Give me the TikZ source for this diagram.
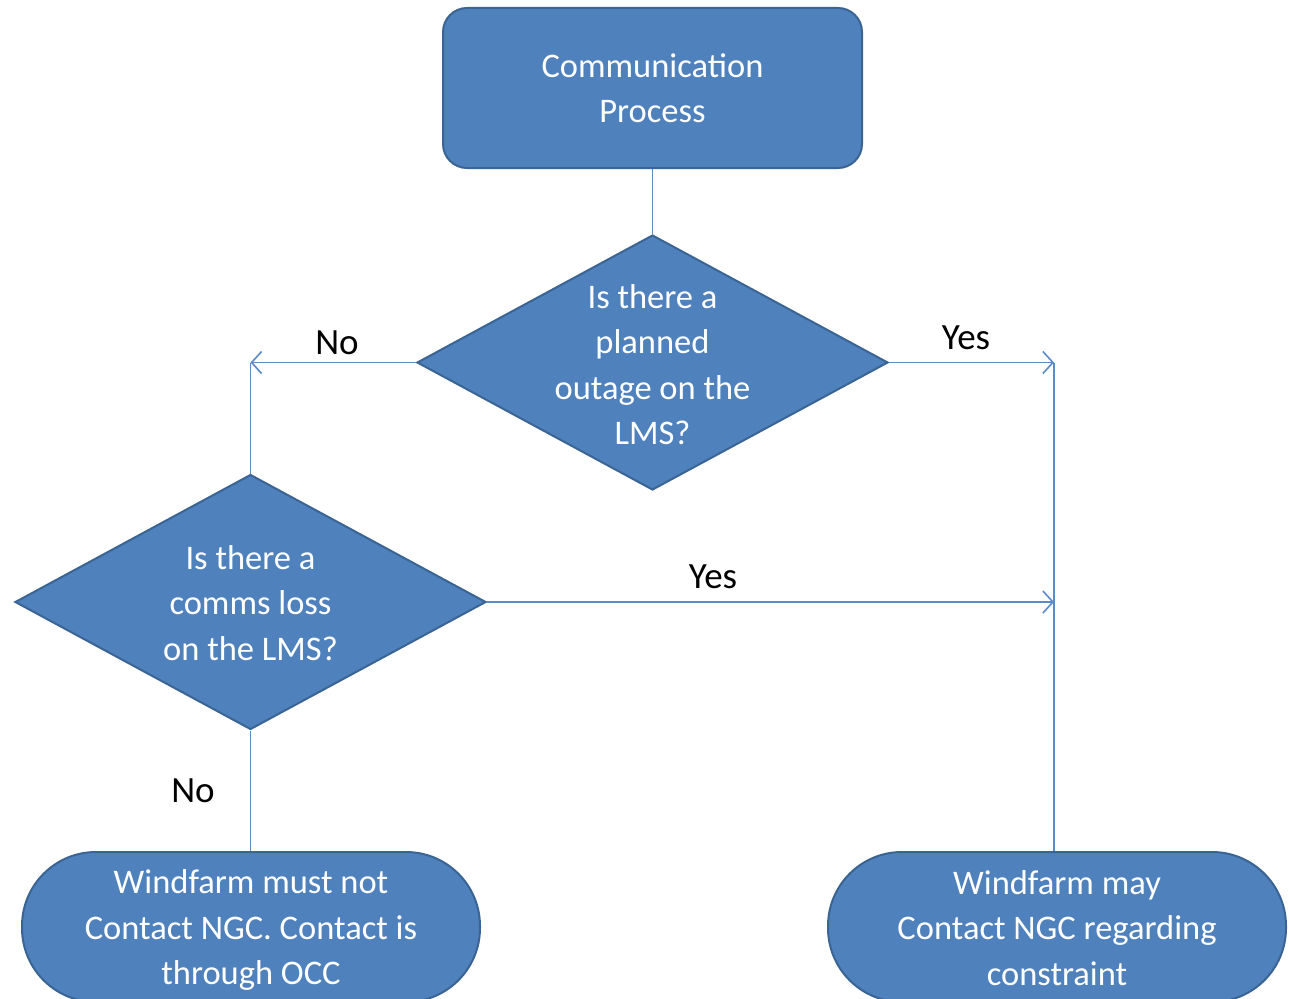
\documentclass[tikz,border=0pt]{standalone}
\usepackage{fontspec}
\setmainfont{Carlito}
\usetikzlibrary{shapes.geometric,arrows.meta}
\definecolor{boxfill}{HTML}{4F81BD}
\definecolor{boxline}{HTML}{3A6494}
\definecolor{conn}{HTML}{5A8BCB}
\tikzset{
  base/.style={fill=boxfill,draw=boxline,line width=2pt,inner sep=0pt},
  procbox/.style={base,rectangle,rounded corners=24pt,minimum width=419pt,minimum height=160pt},
  termbox/.style={base,rectangle,rounded corners=74pt,minimum width=458pt,minimum height=150pt},
  decbox/.style={base,diamond,minimum width=471pt,minimum height=255pt},
  wtext/.style={text=white,align=center,font=\fontsize{34.5}{45.5}\selectfont},
  lbl/.style={text=black,font=\fontsize{37}{42}\selectfont},
  conline/.style={draw=conn,line width=1.6pt},
  arr/.style={conline,-{Straight Barb[length=10pt,width=22pt,line width=1.6pt]}}
}
\begin{document}
\begin{tikzpicture}[x=1pt,y=-1pt]
\useasboundingbox (0,0) rectangle (1289,998);
\node[procbox] (top) at (652.5,88) {};
\node[wtext] at (top) {Communication\\Process};
\node[decbox] (d1) at (652.5,362.5) {};
\node[wtext] at (652.5,364.5) {Is there a\\planned\\outage on the\\LMS?};
\node[decbox] (d2) at (250.5,602) {};
\node[wtext] at (250.5,603) {Is there a\\comms loss\\on the LMS?};
\node[termbox] (tl) at (251,927) {};
\node[wtext] at (251,930) {Windfarm must not\\Contact NGC. Contact is\\through OCC};
\node[termbox] (tr) at (1057,927) {};
\node[wtext] at (1057,928) {Windfarm may\\Contact NGC regarding\\constraint};
\coordinate (cl) at (250.5,362.5);
\coordinate (cr) at (1054,362.5);
\coordinate (cm) at (1054,602);
\draw[conline] (top.south) -- (d1.north);
\draw[arr] (d1.west) -- (cl);
\draw[conline] (cl) -- (d2.north);
\draw[arr] (d1.east) -- (cr);
\draw[conline] (cr) -- (cr |- tr.north);
\draw[arr] (d2.east) -- (cm);
\draw[conline] (d2.south) -- (d2.south |- tl.north);
\node[lbl] at (337,343) {No};
\node[lbl] at (966,338) {Yes};
\node[lbl] at (713,577) {Yes};
\node[lbl] at (193,791) {No};
\end{tikzpicture}
\end{document}
